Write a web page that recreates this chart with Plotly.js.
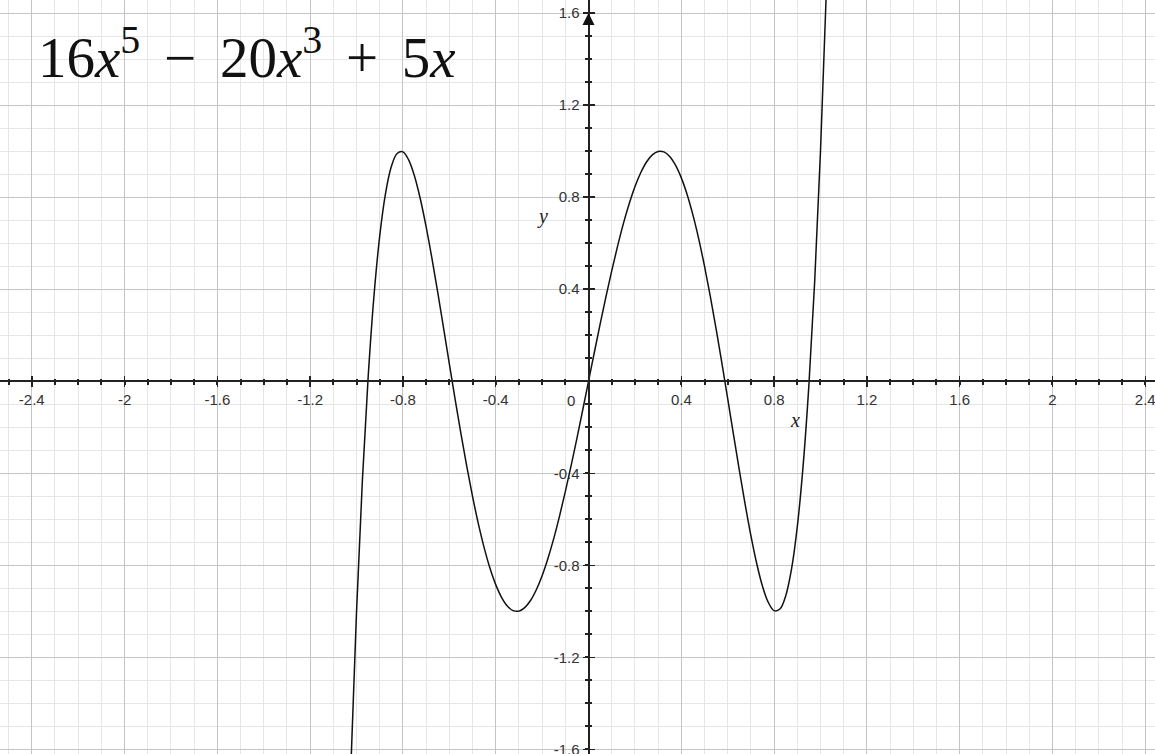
<!DOCTYPE html>
<html>
<head>
<meta charset="utf-8">
<script src="https://cdn.plot.ly/plotly-3.0.1.min.js"></script>
<style>
  html, body { margin: 0; padding: 0; background: #fff; }
  #plot { width: 1155px; height: 754px; }
</style>
</head>
<body>
<div id="plot"></div>
<script>
// Sampled points of the quintic curve (even spacing of 0.025)
const curveX = [-1.05, -1.025, -1.0, -0.975, -0.95, -0.925, -0.9, -0.875, -0.85, -0.825, -0.8,
                -0.775, -0.75, -0.725, -0.7, -0.675, -0.65, -0.625, -0.6, -0.575, -0.55,
                -0.525, -0.5, -0.475, -0.45, -0.425, -0.4, -0.375, -0.35, -0.325, -0.3,
                -0.275, -0.25, -0.225, -0.2, -0.175, -0.15, -0.125, -0.1, -0.075, -0.05, -0.025,
                0,
                0.025, 0.05, 0.075, 0.1, 0.125, 0.15, 0.175, 0.2, 0.225, 0.25, 0.275,
                0.3, 0.325, 0.35, 0.375, 0.4, 0.425, 0.45, 0.475, 0.5, 0.525, 0.55,
                0.575, 0.6, 0.625, 0.65, 0.675, 0.7, 0.725, 0.75, 0.775, 0.8,
                0.825, 0.85, 0.875, 0.9, 0.925, 0.95, 0.975, 1.0, 1.025, 1.05];
const curveY = [-2.518, -1.690, -1.0, -0.435, 0.017, 0.369, 0.632, 0.817, 0.933, 0.990, 0.997,
                0.961, 0.891, 0.792, 0.671, 0.534, 0.386, 0.232, 0.076, -0.079, -0.228,
                -0.369, -0.5, -0.619, -0.723, -0.812, -0.884, -0.939, -0.977, -0.997, -0.999,
                -0.984, -0.953, -0.906, -0.845, -0.770, -0.684, -0.586, -0.480, -0.367, -0.248, -0.125,
                0,
                0.125, 0.248, 0.367, 0.480, 0.586, 0.684, 0.770, 0.845, 0.906, 0.953, 0.984,
                0.999, 0.997, 0.977, 0.939, 0.884, 0.812, 0.723, 0.619, 0.5, 0.369, 0.228,
                0.079, -0.076, -0.232, -0.386, -0.534, -0.671, -0.792, -0.891, -0.961, -0.997,
                -0.990, -0.933, -0.817, -0.632, -0.369, -0.017, 0.435, 1.0, 1.690, 2.518];

// Axis tick labels (origin label is placed separately)
const xTickVals = [-2.4, -2, -1.6, -1.2, -0.8, -0.4, 0.4, 0.8, 1.2, 1.6, 2, 2.4];
const xTickText = ['-2.4', '-2', '-1.6', '-1.2', '-0.8', '-0.4', '0.4', '0.8', '1.2', '1.6', '2', '2.4'];
const yTickVals = [-1.6, -1.2, -0.8, -0.4, 0.4, 0.8, 1.2, 1.6];
const yTickText = ['-1.6', '-1.2', '-0.8', '-0.4', '0.4', '0.8', '1.2', '1.6'];

const xRange = [-2.537, 2.442];
const yRange = [-1.62, 1.657];

// where the coordinate axes cross the view, as plot fractions
const xAxisPos = (0 - yRange[0]) / (yRange[1] - yRange[0]);
const yAxisPos = (0 - xRange[0]) / (xRange[1] - xRange[0]);

const tickFont = { family: 'Liberation Sans, Arial, sans-serif', size: 15, color: '#333' };
const gap = '\u00a0\u2006';

const gridAxis = (range) => ({
  range: range,
  domain: [0, 1],
  tick0: 0,
  dtick: 0.4,
  showgrid: true,
  gridcolor: '#c4c4c4',
  gridwidth: 1,
  minor: { dtick: 0.1, showgrid: true, gridcolor: '#e6e6e6', gridwidth: 1 },
  zeroline: false,
  showline: false,
  ticks: '',
  showticklabels: false,
  fixedrange: true
});

const traces = [
  {
    x: curveX, y: curveY,
    type: 'scatter', mode: 'lines',
    line: { color: '#111', width: 1.5, shape: 'spline', smoothing: 1 },
    hoverinfo: 'skip', showlegend: false,
    cliponaxis: true
  },
  { x: [], y: [], xaxis: 'x2', yaxis: 'y2', type: 'scatter', mode: 'lines', showlegend: false, hoverinfo: 'skip' },
  { x: [], y: [], xaxis: 'x3', yaxis: 'y3', type: 'scatter', mode: 'lines', showlegend: false, hoverinfo: 'skip' }
];

const layout = {
  width: 1155,
  height: 754,
  margin: { l: 0, r: 0, t: 0, b: 0 },
  paper_bgcolor: '#ffffff',
  plot_bgcolor: '#ffffff',
  showlegend: false,
  xaxis: gridAxis(xRange),
  yaxis: gridAxis(yRange),
  // horizontal coordinate axis: line, downward ticks and labels
  xaxis2: {
    overlaying: 'x', anchor: 'free', position: xAxisPos, side: 'bottom',
    range: xRange, showgrid: false, zeroline: false,
    showline: true, linecolor: '#222', linewidth: 2,
    tickmode: 'array', tickvals: xTickVals, ticktext: xTickText,
    ticks: 'outside', ticklen: 5, tickwidth: 1.5, tickcolor: '#222',
    minor: { tick0: 0, dtick: 0.1, ticks: 'outside', ticklen: 2.5, tickwidth: 2, tickcolor: '#222' },
    tickfont: tickFont, ticklabelstandoff: 0, ticklabeloverflow: 'allow', fixedrange: true
  },
  // upward half of the horizontal axis ticks
  xaxis3: {
    overlaying: 'x', anchor: 'free', position: xAxisPos, side: 'bottom',
    range: xRange, showgrid: false, zeroline: false, showline: false,
    tickmode: 'linear', tick0: 0, dtick: 0.4,
    ticks: 'inside', ticklen: 5, tickwidth: 1.5, tickcolor: '#222',
    minor: { tick0: 0, dtick: 0.1, ticks: 'inside', ticklen: 2.5, tickwidth: 2, tickcolor: '#222' },
    showticklabels: false, fixedrange: true
  },
  // vertical coordinate axis: line, leftward ticks and labels
  yaxis2: {
    overlaying: 'y', anchor: 'free', position: yAxisPos, side: 'left',
    range: yRange, showgrid: false, zeroline: false,
    showline: true, linecolor: '#222', linewidth: 2,
    tickmode: 'array', tickvals: yTickVals, ticktext: yTickText,
    ticks: 'outside', ticklen: 5, tickwidth: 1.5, tickcolor: '#222',
    minor: { tick0: 0, dtick: 0.1, ticks: 'outside', ticklen: 2.5, tickwidth: 2, tickcolor: '#222' },
    tickfont: tickFont, ticklabelstandoff: 0, ticklabeloverflow: 'allow', fixedrange: true
  },
  // rightward half of the vertical axis ticks
  yaxis3: {
    overlaying: 'y', anchor: 'free', position: yAxisPos, side: 'left',
    range: yRange, showgrid: false, zeroline: false, showline: false,
    tickmode: 'linear', tick0: 0, dtick: 0.4,
    ticks: 'inside', ticklen: 5, tickwidth: 1.5, tickcolor: '#222',
    minor: { tick0: 0, dtick: 0.1, ticks: 'inside', ticklen: 2.5, tickwidth: 2, tickcolor: '#222' },
    showticklabels: false, fixedrange: true
  },
  annotations: [
    {
      xref: 'paper', yref: 'paper', x: 0.031, y: 0.93,
      xanchor: 'left', yanchor: 'middle', showarrow: false,
      text: '16<i>x</i><sup>5</sup>' + gap + '−' + gap + '20<i>x</i><sup>3</sup>' + gap + '+' + gap + '5<i>x</i>',
      font: { family: 'Liberation Serif, DejaVu Serif, serif', size: 57, color: '#111' }
    },
    {
      xref: 'x', yref: 'y', x: 0, y: 0, xshift: -18, yshift: -19,
      showarrow: false, text: '0', font: tickFont
    },
    {
      xref: 'x', yref: 'y', x: 0.89, y: -0.17, showarrow: false,
      text: '<i>x</i>', font: { family: 'Liberation Serif, serif', size: 20, color: '#222' }
    },
    {
      xref: 'x', yref: 'y', x: -0.2, y: 0.715, showarrow: false,
      text: '<i>y</i>', font: { family: 'Liberation Serif, serif', size: 20, color: '#222' }
    },
    {
      xref: 'x', yref: 'y', x: 0, y: 1.6, text: '',
      showarrow: true, ax: 0, ay: 12, arrowhead: 2, arrowsize: 1.2, arrowwidth: 2, arrowcolor: '#111'
    }
  ]
};

Plotly.newPlot('plot', traces, layout, { staticPlot: true, displayModeBar: false });
</script>
</body>
</html>
